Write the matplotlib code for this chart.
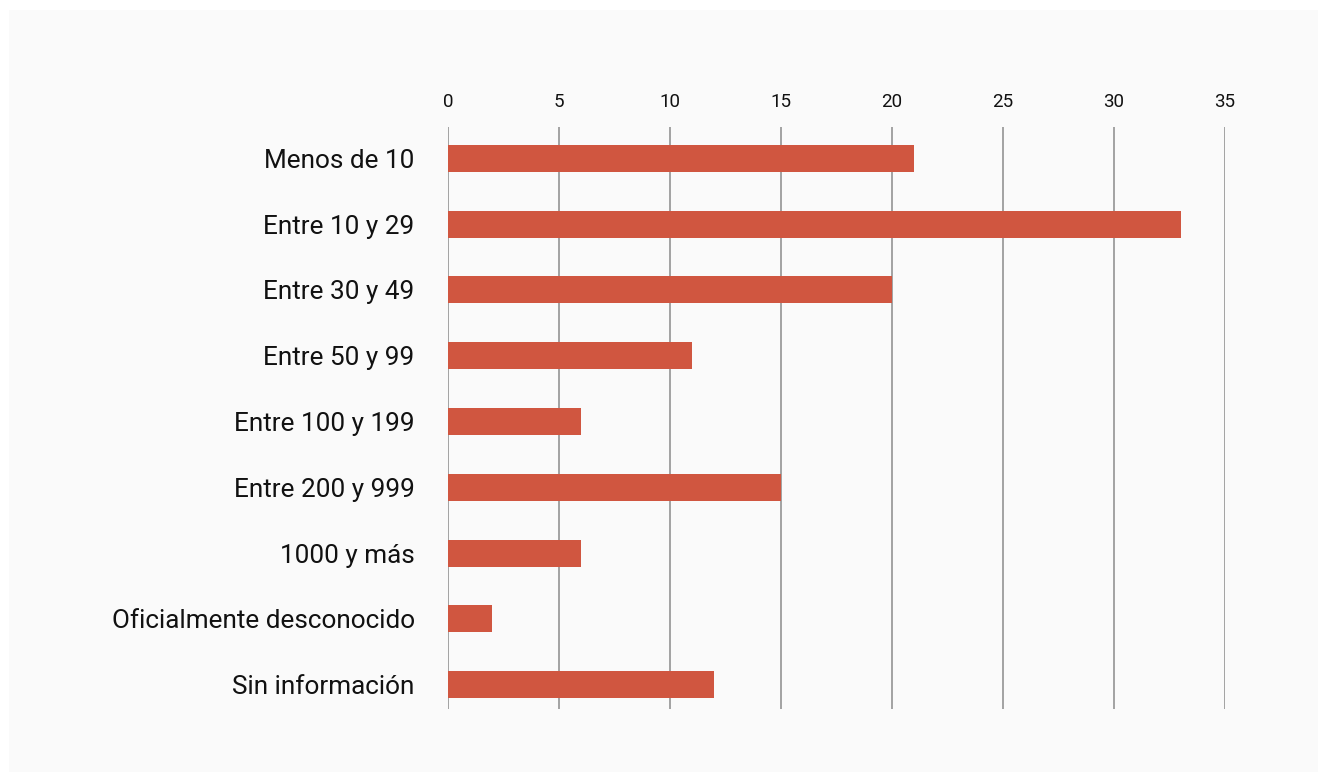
import matplotlib.pyplot as plt
from matplotlib.patches import Rectangle

plt.rcParams['font.family'] = ['Roboto', 'DejaVu Sans']

categories = ['Menos de 10', 'Entre 10 y 29', 'Entre 30 y 49', 'Entre 50 y 99',
              'Entre 100 y 199', 'Entre 200 y 999', '1000 y más',
              'Oficialmente desconocido', 'Sin información']
values = [21, 33, 20, 11, 6, 15, 6, 2, 12]
xticks = [0, 5, 10, 15, 20, 25, 30, 35]

W, H = 1327, 782
fig = plt.figure(figsize=(W / 100, H / 100), dpi=100, facecolor='white')

# light grey panel behind the chart
fig.patches.append(Rectangle((9 / W, 1 - 772 / H), (1318 - 9) / W, (772 - 10) / H,
                             transform=fig.transFigure, facecolor='#fafafa',
                             edgecolor='none', zorder=-10))

ax = fig.add_axes([448 / W, 1 - 709 / H, (1225 - 448) / W, (709 - 126.7) / H])
ax.set_facecolor('none')
ax.set_zorder(5)

y = list(range(len(categories)))
ax.barh(y, values, height=0.41, color='#d05640', zorder=3)

ax.set_xlim(0, 35)
ax.set_ylim(len(categories) - 1 + 0.37, -0.48)
ax.set_xticks(xticks)
ax.set_yticks(y)
ax.set_yticklabels(categories)
ax.xaxis.tick_top()
ax.tick_params(axis='x', length=0, pad=11, labelsize=13.5, colors='#111111')
ax.tick_params(axis='y', length=0, pad=24, labelsize=18.8, labelcolor='#111111')
ax.grid(axis='x', color='#8a8a8a', linewidth=1.1, zorder=1)
for s in ax.spines.values():
    s.set_visible(False)

plt.savefig('out.png', dpi=100, facecolor='white')
